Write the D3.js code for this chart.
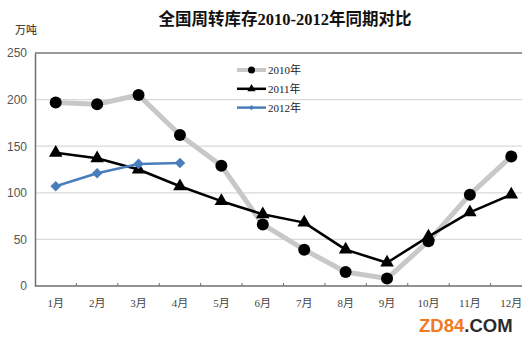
<!DOCTYPE html>
<html>
<head>
<meta charset="utf-8">
<script src="https://cdn.jsdelivr.net/npm/d3@7"></script>
<style>
  html, body { margin: 0; padding: 0; background: #fff; }
  svg { display: block; }
</style>
</head>
<body>
<svg id="chart" width="530" height="345"></svg>
<script>
// Monthly circulating inventory, 10k tonnes
const months = ["1月","2月","3月","4月","5月","6月","7月","8月","9月","10月","11月","12月"];
const values2010 = [197, 195, 205, 162, 129, 66, 39, 15, 8, 48, 98, 139];
const values2011 = [143, 137, 125, 107, 91, 77, 68, 39, 25, 53, 79, 98];
const values2012 = [107, 121, 131, 132];
const yTicks = [0, 50, 100, 150, 200, 250];
const seriesNames = ["2010年", "2011年", "2012年"];

const svg = d3.select("#chart");
const plotLeft = 35, plotRight = 532, plotTop = 53, plotBottom = 286, lineEnd = 522;

const x = d3.scaleBand().domain(months).range([plotLeft, plotRight]).paddingInner(0).paddingOuter(0);
const y = d3.scaleLinear().domain([0, 250]).range([plotBottom, plotTop]);
const cx = m => x(m) + x.bandwidth() / 2;

const latinCjk = "'Liberation Serif', 'Noto Sans CJK SC', serif";

// Title and unit
svg.append("text")
  .attr("x", 285).attr("y", 25)
  .attr("text-anchor", "middle")
  .attr("font-family", latinCjk)
  .attr("font-size", 16.5)
  .attr("font-weight", "bold")
  .attr("fill", "#111")
  .text("全国周转库存2010-2012年同期对比");

svg.append("text")
  .attr("x", 15).attr("y", 34)
  .attr("font-family", "'Noto Sans CJK SC', sans-serif")
  .attr("font-size", 11)
  .attr("fill", "#222")
  .text("万吨");

// Horizontal gridlines
svg.append("g").selectAll("line")
  .data(yTicks.filter(d => d > 0 && d < 250))
  .join("line")
  .attr("x1", plotLeft).attr("x2", lineEnd)
  .attr("y1", d => y(d)).attr("y2", d => y(d))
  .attr("stroke", "#d9d9d9").attr("stroke-width", 1.2);

// Top frame line at the axis maximum
svg.append("line")
  .attr("x1", plotLeft).attr("x2", lineEnd)
  .attr("y1", y(250)).attr("y2", y(250))
  .attr("stroke", "#9a9a9a").attr("stroke-width", 2);

// Y axis
const yAxis = d3.axisLeft(y).tickValues(yTicks).tickSize(0).tickPadding(8);
const gy = svg.append("g").attr("transform", `translate(${plotLeft},0)`).call(yAxis);
gy.select(".domain").attr("stroke", "#6e6e6e").attr("stroke-width", 1.5);
gy.selectAll("text")
  .attr("font-family", "'Liberation Sans', Arial, sans-serif")
  .attr("font-size", 12)
  .attr("fill", "#555");

// X axis
const xAxis = d3.axisBottom(x).tickSize(0).tickPadding(13);
const gx = svg.append("g").attr("transform", `translate(0,${plotBottom})`).call(xAxis);
gx.select(".domain").remove();
gx.selectAll("text")
  .attr("font-family", latinCjk)
  .attr("font-size", 11)
  .attr("fill", "#444");
svg.append("line")
  .attr("x1", plotLeft).attr("x2", lineEnd)
  .attr("y1", plotBottom).attr("y2", plotBottom)
  .attr("stroke", "#6e6e6e").attr("stroke-width", 1.5);
svg.append("g").selectAll("line")
  .data(months.slice(1))
  .join("line")
  .attr("x1", d => x(d)).attr("x2", d => x(d))
  .attr("y1", plotBottom).attr("y2", plotBottom - 3)
  .attr("stroke", "#6e6e6e").attr("stroke-width", 1);

const line = d3.line().x((d, i) => cx(months[i])).y(d => y(d));

// 2010 series
svg.append("path").datum(values2010)
  .attr("d", line).attr("fill", "none")
  .attr("stroke", "#c8c8c8").attr("stroke-width", 5).attr("stroke-linejoin", "round");
svg.append("g").selectAll("circle").data(values2010).join("circle")
  .attr("cx", (d, i) => cx(months[i])).attr("cy", d => y(d))
  .attr("r", 6).attr("fill", "#000");

// 2011 series
svg.append("path").datum(values2011)
  .attr("d", line).attr("fill", "none")
  .attr("stroke", "#000").attr("stroke-width", 2.5).attr("stroke-linejoin", "round");
const tri = d3.symbol().type(d3.symbolTriangle).size(80);
svg.append("g").selectAll("path").data(values2011).join("path")
  .attr("d", tri)
  .attr("transform", (d, i) => `translate(${cx(months[i])},${y(d)})`)
  .attr("fill", "#000");

// 2012 series
svg.append("path").datum(values2012)
  .attr("d", line).attr("fill", "none")
  .attr("stroke", "#4a7ebb").attr("stroke-width", 2.5).attr("stroke-linejoin", "round");
const dia = d3.symbol().type(d3.symbolSquare).size(56);
svg.append("g").selectAll("path").data(values2012).join("path")
  .attr("d", dia)
  .attr("transform", (d, i) => `translate(${cx(months[i])},${y(d)}) rotate(45)`)
  .attr("fill", "#4a7ebb");

// Legend
const legend = svg.append("g").attr("transform", "translate(237,70)");
const lx1 = 0, lx2 = 29, rowH = 18.8;
const styles = [
  { stroke: "#c8c8c8", w: 4, mark: "circle", color: "#000" },
  { stroke: "#000", w: 2.5, mark: "triangle", color: "#000" },
  { stroke: "#4a7ebb", w: 2.5, mark: "diamond", color: "#4a7ebb" }
];
seriesNames.forEach((name, i) => {
  const g = legend.append("g").attr("transform", `translate(0,${i * rowH})`);
  const s = styles[i];
  g.append("line").attr("x1", lx1).attr("x2", lx2).attr("y1", 0).attr("y2", 0)
    .attr("stroke", s.stroke).attr("stroke-width", s.w);
  const mx = (lx1 + lx2) / 2;
  if (s.mark === "circle") {
    g.append("circle").attr("cx", mx).attr("cy", 0).attr("r", 3.5).attr("fill", s.color);
  } else if (s.mark === "triangle") {
    g.append("path").attr("d", d3.symbol().type(d3.symbolTriangle).size(30))
      .attr("transform", `translate(${mx},0)`).attr("fill", s.color);
  } else {
    g.append("path").attr("d", d3.symbol().type(d3.symbolSquare).size(14))
      .attr("transform", `translate(${mx},0) rotate(45)`).attr("fill", s.color);
  }
  g.append("text").attr("x", lx2 + 2).attr("y", 4)
    .attr("font-family", latinCjk)
    .attr("font-size", 11).attr("fill", "#222")
    .text(name);
});

// Site mark
const wm = svg.append("text")
  .attr("x", 419).attr("y", 331.5)
  .attr("font-family", "'Liberation Sans', Arial, sans-serif")
  .attr("font-size", 18.5).attr("font-weight", "bold");
wm.append("tspan").attr("fill", "#f07a1e").text("ZD84");
wm.append("tspan").attr("fill", "#2b2b2b").text(".COM");
</script>
</body>
</html>
